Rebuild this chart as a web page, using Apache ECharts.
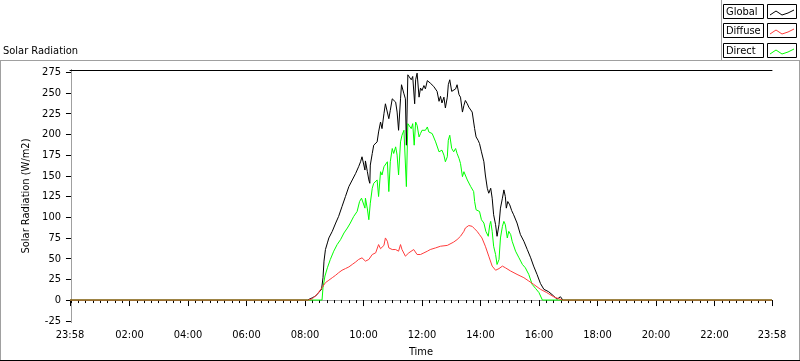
<!DOCTYPE html>
<html><head><meta charset="utf-8">
<script src="https://cdn.jsdelivr.net/npm/echarts@6/dist/echarts.min.js"></script>
<style>html,body{margin:0;padding:0;background:#fff}#c{width:800px;height:361px}</style>
</head><body><div id="c"></div>
<script>
// ---- data (time = minutes after 00:00; axis runs 23:58 -> 23:58) ----
const seriesNames = ['Global', 'Diffuse', 'Direct'];
const seriesColors = ['#000000', '#ff3c3c', '#00ff00'];

const globalTime = [-2,485,495,502,508,514,517,519,522,526,529,536,543,549,556,563,570,577,584,590,594,597,600,603,604,608,611,613,614,618,621,628,631,635,638,642,645,649,652,655,659,666,669,672,676,678,683,686,688,691,694,698,701,705,707,710,714,717,720,724,727,731,734,737,741,744,748,751,755,758,761,765,768,772,774,777,781,785,789,792,796,799,803,806,809,813,816,820,823,826,828,831,835,838,842,847,850,854,857,861,864,867,871,874,878,881,885,888,891,893,896,900,904,908,915,922,929,936,943,949,956,963,970,980,990,997,1004,1009,1438];
const globalValue = [0,0,2.7,5,9,13,27,47,61,69,75,83,93,101,113,125,137,145,153,161,167,173,171,157,168,155,145,141,163,177,187,191,203,215,207,225,237,235,219,229,243,239,227,205,243,260,249,243,187,272,274,266,270,237,266,274,245,256,253,259,255,265,267,262,263,258,258,252,240,246,238,245,232,245,260,266,252,250,255,260,248,245,227,235,241,237,233,231,227,225,207,197,193,189,179,167,151,135,129,135,123,103,91,77,91,111,123,133,125,111,119,115,108,103,93,79,71,61,51,41,31,20,13,10,5,1,4,0,0];

const diffuseTime = [-2,487,495,505,515,522,529,536,543,549,556,563,570,577,584,590,597,604,611,618,625,631,635,638,642,645,649,652,655,659,662,666,669,672,676,679,683,686,690,693,696,703,710,717,724,731,737,748,758,772,785,792,799,806,809,816,823,828,833,838,843,850,857,864,871,878,885,891,902,915,929,939,949,963,976,990,1001,1008,1438];
const diffuseValue = [0,0,1.5,7,15,21,24,27,30,33,36,38,40,43,46,49,51,47,49,55,57,67,62,64,66,75,71,63,65,61,63,61,62,59,67,61,59,53,55,57,59,61,55,55,57,59,61,63,65,66,70,73,77,83,87,90,89,86,83,79,75,65,53,41,36,38,41,39,35,31,27,23,19,13,9,4,1.5,0,0];

const directTime = [-2,515,517,521,526,532,539,546,553,560,567,573,580,587,592,596,600,603,604,608,611,613,614,618,621,625,628,631,635,638,642,645,649,652,655,659,662,666,669,672,676,679,683,686,688,691,694,698,701,704,707,710,714,717,720,724,727,731,734,737,741,744,748,751,755,758,761,765,768,772,774,777,781,785,789,792,796,799,803,806,809,813,816,820,823,826,828,831,835,838,842,847,851,856,859,861,864,867,871,874,878,881,885,888,891,895,898,902,905,912,919,926,932,939,946,953,960,967,1438];
const directValue = [0,0,15,29,39,49,59,67,73,81,87,93,101,107,119,123,125,111,123,110,97,95,117,135,141,139,145,125,155,151,161,163,167,131,167,183,177,185,175,151,191,199,205,203,137,213,215,207,213,187,215,211,197,201,205,203,205,209,203,201,201,199,191,189,179,177,181,175,167,173,193,199,183,179,183,177,171,165,149,155,155,145,143,137,139,131,119,109,111,107,97,93,83,77,91,95,83,65,55,43,49,75,89,95,91,75,83,79,71,59,51,43,39,31,19,14,9,0,0];

// tick labels
const xTickMinutes = [-2,120,240,360,480,600,720,840,960,1080,1200,1320,1438];
const xTickLabels = ['23:58','02:00','04:00','06:00','08:00','10:00','12:00','14:00','16:00','18:00','20:00','22:00','23:58'];
const yTicks = [-25,0,25,50,75,100,125,150,175,200,225,250,275];

const X_MIN = -2, X_MAX = 1438, Y_MIN = -26.5, Y_MAX = 277.8;
const minorTicks = [];
for (let m = 0; m <= 1425; m += 15) minorTicks.push(m);

const FONT = '"DejaVu Sans Condensed", "DejaVu Sans", sans-serif';
const FS = 11;
const zip = (t, v) => t.map((x, i) => [x, v[i]]);

const chart = echarts.init(document.getElementById('c'), null, {renderer: 'canvas'});

// legend drawn LabVIEW-style
const legendGraphics = [];
seriesNames.forEach((name, i) => {
  const b = Math.round(4 + i * 19.3);
  legendGraphics.push({type: 'rect', shape: {x: 723.5, y: b + 0.5, width: 40, height: 14}, style: {fill: '#fff', stroke: '#000', lineWidth: 1}});
  legendGraphics.push({type: 'text', x: 726, y: b + 8, style: {text: name, fontFamily: FONT, fontSize: FS, fill: '#000', verticalAlign: 'middle'}});
  legendGraphics.push({type: 'rect', shape: {x: 767.5, y: b + 0.5, width: 29, height: 14}, style: {fill: '#fff', stroke: '#000', lineWidth: 1}});
  legendGraphics.push({type: 'polyline', shape: {points: [[770, b + 11], [776, b + 7], [782, b + 11], [788, b + 9], [794, b + 6]]}, style: {stroke: seriesColors[i], lineWidth: 1, fill: null}});
});

const fmt = v => {
  const i = xTickMinutes.indexOf(Math.round(v));
  return i >= 0 ? xTickLabels[i] : '';
};

chart.setOption({
  animation: false,
  backgroundColor: '#ffffff',
  title: {text: 'Solar Radiation', left: 3, top: 46, padding: 0,
    textStyle: {fontFamily: FONT, fontSize: FS, fontWeight: 'normal', color: '#000'}},
  grid: {left: 70, right: 28, top: 70, bottom: 39, containLabel: false, outerBoundsMode: 'none'},
  xAxis: [
    {type: 'value', min: X_MIN, max: X_MAX, position: 'bottom',
      name: 'Time', nameLocation: 'middle', nameGap: 25,
      nameTextStyle: {fontFamily: FONT, fontSize: FS, color: '#000'},
      axisLine: {show: true, lineStyle: {color: '#a0a0a0', width: 1}},
      axisTick: {show: true, inside: false, length: 6, customValues: xTickMinutes, lineStyle: {color: '#000'}},
      axisLabel: {customValues: xTickMinutes, formatter: fmt, margin: 8, fontFamily: FONT, fontSize: FS, color: '#000', showMinLabel: true, showMaxLabel: true},
      splitLine: {show: false}},
    {type: 'value', min: X_MIN, max: X_MAX, position: 'bottom',
      axisLine: {show: false},
      axisTick: {show: true, inside: false, length: 3, customValues: minorTicks, lineStyle: {color: '#000'}},
      axisLabel: {show: false}, splitLine: {show: false}},
    {type: 'value', min: X_MIN, max: X_MAX, position: 'top',
      axisLine: {show: true, lineStyle: {color: '#000', width: 1}},
      axisTick: {show: false}, axisLabel: {show: false}, splitLine: {show: false}}
  ],
  yAxis: [
    {type: 'value', min: Y_MIN, max: Y_MAX, position: 'left',
      name: 'Solar Radiation (W/m2)', nameLocation: 'middle', nameGap: 31,
      nameTextStyle: {fontFamily: FONT, fontSize: FS, color: '#000'},
      axisLine: {show: true, lineStyle: {color: '#000', width: 1}},
      axisTick: {show: true, inside: false, length: 5, customValues: yTicks, lineStyle: {color: '#000'}},
      axisLabel: {customValues: yTicks, margin: 9, fontFamily: FONT, fontSize: FS, color: '#000'},
      splitLine: {show: false}},
    {type: 'value', min: Y_MIN, max: Y_MAX, position: 'right',
      axisLine: {show: true, lineStyle: {color: '#a0a0a0', width: 1}},
      axisTick: {show: false}, axisLabel: {show: false}, splitLine: {show: false}}
  ],
  series: [
    {name: 'Global', type: 'line', data: zip(globalTime, globalValue), showSymbol: false, symbol: 'none', z: 3,
      lineStyle: {color: seriesColors[0], width: 1}},
    {name: 'Direct', type: 'line', data: zip(directTime, directValue), showSymbol: false, symbol: 'none', z: 4,
      lineStyle: {color: seriesColors[2], width: 1}},
    {name: 'Diffuse', type: 'line', data: zip(diffuseTime, diffuseValue), showSymbol: false, symbol: 'none', z: 5,
      lineStyle: {color: seriesColors[1], width: 1}}
  ],
  graphic: [
    {type: 'group', silent: true, children: [
      {type: 'line', shape: {x1: 0, y1: 60.5, x2: 800, y2: 60.5}, style: {stroke: '#a0a0a0', lineWidth: 1}},
      {type: 'line', shape: {x1: 0.5, y1: 60, x2: 0.5, y2: 361}, style: {stroke: '#a0a0a0', lineWidth: 1}},
      {type: 'line', shape: {x1: 799.5, y1: 60, x2: 799.5, y2: 361}, style: {stroke: '#a0a0a0', lineWidth: 1}},
      {type: 'line', shape: {x1: 0, y1: 360.5, x2: 800, y2: 360.5}, style: {stroke: '#000', lineWidth: 1}},
      {type: 'line', shape: {x1: 721.5, y1: 0, x2: 721.5, y2: 60}, style: {stroke: '#a0a0a0', lineWidth: 1}}
    ].concat(legendGraphics)}
  ]
});
</script></body></html>
